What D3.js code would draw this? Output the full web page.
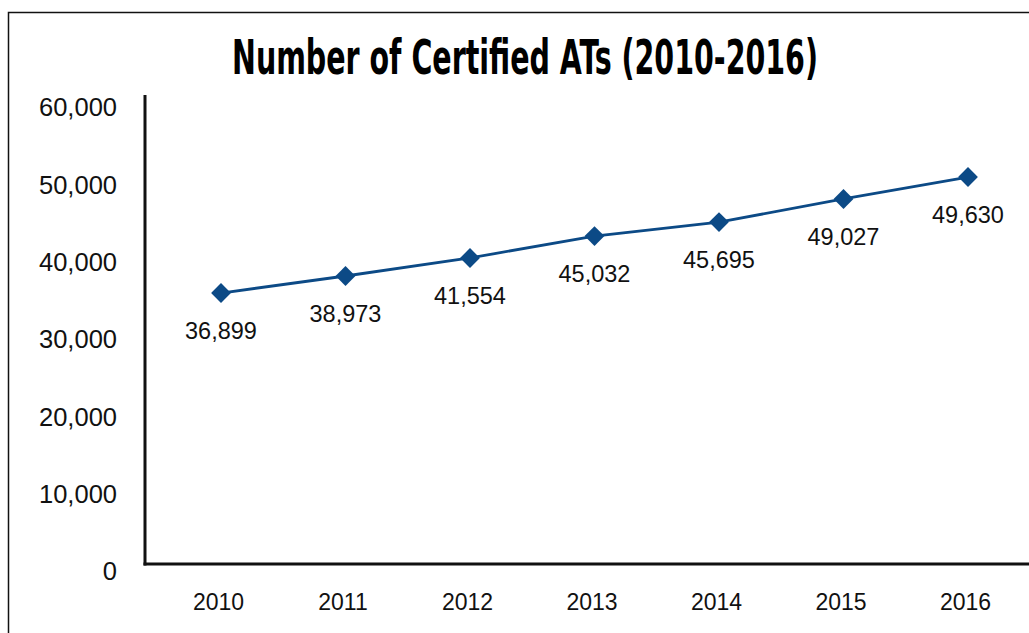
<!DOCTYPE html>
<html>
<head>
<meta charset="utf-8">
<script src="https://cdn.jsdelivr.net/npm/d3@7"></script>
<style>
  body { margin: 0; background: #fff; }
  text { font-family: "Liberation Sans", Arial, Helvetica, sans-serif; fill: #111; }
</style>
</head>
<body>
<script>
// values
var years = ["2010", "2011", "2012", "2013", "2014", "2015", "2016"];
var plotted = [35040, 37240, 39570, 42410, 44220, 47200, 50040];  // where the markers sit
var labels = ["36,899", "38,973", "41,554", "45,032", "45,695", "49,027", "49,630"];
var yTicks = [0, 10000, 20000, 30000, 40000, 50000, 60000];

var W = 1029, H = 633;
var blue = "#0c4a86";

var svg = d3.select("body").append("svg")
	.attr("width", W)
	.attr("height", H);

// frame
svg.append("rect")
	.attr("x", 8.5).attr("y", 12.5)
	.attr("width", W).attr("height", H)
	.attr("fill", "none")
	.attr("stroke", "#111")
	.attr("stroke-width", 1.5);

// title, squeezed horizontally to the reference width
var title = svg.append("text")
	.attr("text-anchor", "middle")
	.style("font-family", "'Liberation Sans Narrow', 'DejaVu Sans Condensed', sans-serif")
	.style("font-weight", "bold")
	.style("font-size", "48px")
	.style("fill", "#000")
	.text("Number of Certified ATs (2010-2016)");
var tw = title.node().getComputedTextLength();
var sx = Math.min(1, 586 / tw);
title.attr("transform", "translate(525,74) scale(" + sx + ",1)");

var x = d3.scalePoint()
	.domain(years)
	.range([221, 968]);

var y = d3.scaleLinear()
	.domain([0, 60000])
	.range([564, 100]);

// y axis labels
var yAxis = d3.axisLeft(y)
	.tickValues(yTicks)
	.tickFormat(d3.format(","))
	.tickSize(0)
	.tickPadding(28);

var gy = svg.append("g")
	.attr("transform", "translate(145,0)")
	.call(yAxis);
gy.select(".domain").remove();
gy.selectAll("text")
	.attr("dy", "0.62em")
	.style("font-size", "25.5px")
	.style("fill", "#111");

// x axis labels
var xAxis = d3.axisBottom(x)
	.tickSize(0)
	.tickPadding(30);

var gx = svg.append("g")
	.attr("transform", "translate(0,564)")
	.call(xAxis);
gx.select(".domain").remove();
gx.selectAll("text")
	.attr("x", -3)
	.style("font-size", "23px")
	.style("fill", "#111");

// axis lines
svg.append("line")
	.attr("x1", 145).attr("x2", 145)
	.attr("y1", 95).attr("y2", 565.5)
	.attr("stroke", "#111").attr("stroke-width", 3);
svg.append("line")
	.attr("x1", 143.5).attr("x2", W)
	.attr("y1", 564).attr("y2", 564)
	.attr("stroke", "#111").attr("stroke-width", 3);

// line + markers
var line = d3.line()
	.x(function(d, i) { return x(years[i]); })
	.y(function(d) { return y(d); });

svg.append("path")
	.datum(plotted)
	.attr("d", line)
	.attr("fill", "none")
	.attr("stroke", blue)
	.attr("stroke-width", 2.8);

svg.selectAll(".marker")
	.data(plotted)
	.enter().append("path")
	.attr("class", "marker")
	.attr("transform", function(d, i) { return "translate(" + x(years[i]) + "," + y(d) + ")"; })
	.attr("d", d3.symbol().type(d3.symbolDiamond2).size(250))
	.attr("fill", blue);

// value labels
svg.selectAll(".vlabel")
	.data(plotted)
	.enter().append("text")
	.attr("class", "vlabel")
	.attr("x", function(d, i) { return x(years[i]); })
	.attr("y", function(d) { return y(d) + 38; })
	.attr("dy", "0.35em")
	.attr("text-anchor", "middle")
	.style("font-size", "23.5px")
	.text(function(d, i) { return labels[i]; });
</script>
</body>
</html>
